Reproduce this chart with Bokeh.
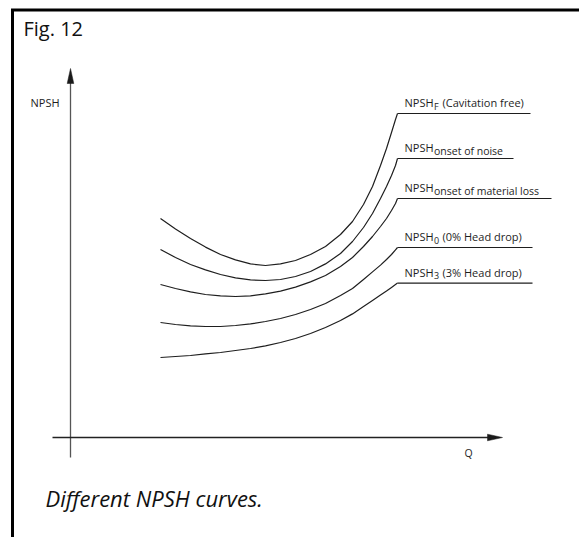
from bokeh.plotting import figure
from bokeh.models import Range1d, Label
from bokeh.core.properties import value
from bokeh.embed import file_html
from bokeh.resources import INLINE

# ---------------- data (arbitrary units)
q = [18.0, 21.0, 24.0, 27.0, 30.0, 33.0, 36.0, 39.0, 42.0, 45.0, 48.0, 51.0, 54.0,
     56.4, 58.6, 60.4, 62.0, 63.2, 64.2, 65.0, 65.4]

npsh_f     = [54.75, 52.1, 49.75, 47.6, 45.75, 44.4, 43.4, 43.0, 43.4, 44.25, 45.75, 47.75, 50.75,
              54.0, 58.25, 62.75, 68.0, 72.25, 76.25, 79.5, 81.0]
npsh_noise = [47.0, 45.0, 43.25, 41.9, 40.75, 39.9, 39.4, 39.25, 39.5, 40.25, 41.5, 43.4, 46.0,
              49.0, 52.5, 56.0, 59.75, 62.75, 65.5, 68.0, 69.75]
npsh_mat   = [38.25, 37.25, 36.4, 35.75, 35.4, 35.25, 35.4, 35.9, 36.6, 37.6, 38.9, 40.5, 42.75,
              45.0, 47.75, 50.25, 52.75, 54.75, 56.75, 58.5, 59.75]
npsh_0     = [28.75, 28.25, 27.9, 27.75, 27.75, 28.0, 28.4, 29.0, 29.75, 30.75, 32.0, 33.5, 35.5,
              37.25, 39.5, 41.4, 43.1, 44.5, 45.75, 46.9, 47.5]
npsh_3     = [20.0, 20.25, 20.5, 20.9, 21.25, 21.75, 22.25, 22.9, 23.75, 24.75, 26.0, 27.5, 29.25,
              30.9, 32.75, 34.25, 35.6, 36.6, 37.5, 38.25, 38.6]

curves = [npsh_f, npsh_noise, npsh_mat, npsh_0, npsh_3]
label_sub = ["F", "onset of noise", "onset of material loss", "0", "3"]
label_rest = ["(Cavitation free)", "", "", "(0% Head drop)", "(3% Head drop)"]
leader_end_q = [92.0, 88.6, 96.2, 92.4, 92.4]
label_q = 66.8

x_axis_label = "Q"
y_axis_label = "NPSH"
fig_title = "Fig. 12"
caption = "Different NPSH curves."

# ---------------- layout
W, H = 579, 537
PX_Q, PX_N = 5.0, 4.0          # pixels per unit
OX, OY = 70.0, 437.0           # origin position in px (from left / from top)
X_TIP, Y_TIP = 86.4, 92.25     # arrow tips
FONT = "Open Sans"
INK = "#1e1e1e"

p = figure(width=W, height=H, output_backend="svg", toolbar_location=None,
           x_range=Range1d(-OX / PX_Q, (W - OX) / PX_Q),
           y_range=Range1d(-(H - OY) / PX_N, OY / PX_N),
           min_border=0, min_border_left=0, min_border_right=0,
           min_border_top=0, min_border_bottom=0)
p.axis.visible = False
p.grid.visible = False
p.outline_line_color = None
p.background_fill_color = "white"
p.border_fill_color = "white"

xr0, xr1 = p.x_range.start, p.x_range.end
yr0, yr1 = p.y_range.start, p.y_range.end

# frame (top and left borders)
top_n = yr1 - 9.5 / PX_N
left_q = xr0 + 12.0 / PX_Q
p.line([left_q - 1.5 / PX_Q, xr1], [top_n, top_n], line_color="black", line_width=3)
p.line([left_q, left_q], [yr0, top_n], line_color="black", line_width=3)

# y axis with arrow
p.line([0, 0], [-20.0 / PX_N, Y_TIP - 10 / PX_N], line_color="#555555", line_width=1.3)
p.patch([0, -3.3 / PX_Q, 3.3 / PX_Q], [Y_TIP, Y_TIP - 15 / PX_N, Y_TIP - 15 / PX_N],
        fill_color="#1a1a1a", line_color="#1a1a1a", line_width=0.5)
# x axis with arrow
p.line([-18.0 / PX_Q, X_TIP - 10 / PX_Q], [0, 0], line_color="#222222", line_width=1.4)
p.patch([X_TIP, X_TIP - 15 / PX_Q, X_TIP - 15 / PX_Q], [0, 3.3 / PX_N, -3.3 / PX_N],
        fill_color="#1a1a1a", line_color="#1a1a1a", line_width=0.5)

# curves and leader lines with labels
for ys, sub, rest, qend in zip(curves, label_sub, label_rest, leader_end_q):
    p.line(q, ys, line_color=INK, line_width=1.2, line_join="round")
    p.line([q[-1], qend], [ys[-1], ys[-1]], line_color=INK, line_width=1.2)
    p.text(x=[label_q], y=[ys[-1]], text=["NPSH"], text_font=value(FONT),
           text_font_size="11px", text_color=INK, text_baseline="alphabetic",
           text_align="left", y_offset=-11)
    short = len(sub) == 1
    p.text(x=[label_q], y=[ys[-1]], text=[sub], text_font=value(FONT),
           text_font_size="9px" if short else "10.5px", text_color=INK,
           text_baseline="alphabetic", text_align="left", x_offset=29.5,
           y_offset=-7.5)
    if rest:
        p.text(x=[label_q], y=[ys[-1]], text=[rest], text_font=value(FONT),
               text_font_size="11px", text_color=INK, text_baseline="alphabetic",
               text_align="left", x_offset=38, y_offset=-11)

# axis labels
p.text(x=[(30 - OX) / PX_Q], y=[(OY - 102) / PX_N], text=[y_axis_label], text_font=value(FONT),
       text_font_size="11px", text_color=INK, text_baseline="middle", text_align="left")
p.text(x=[(468 - OX) / PX_Q], y=[(OY - 452) / PX_N], text=[x_axis_label], text_font=value(FONT),
       text_font_size="10.5px", text_color=INK, text_baseline="middle", text_align="center")

# figure number and caption
p.add_layout(Label(x=23, y=H - 28, x_units="screen", y_units="screen", text=fig_title,
                   text_font=FONT, text_font_size="20px", text_color="#111111",
                   text_baseline="middle", text_align="left"))
p.add_layout(Label(x=45, y=H - 497, x_units="screen", y_units="screen", text=caption,
                   text_font=FONT, text_font_style="italic", text_font_size="22px",
                   text_color="#111111", text_baseline="middle", text_align="left"))

open("out.html", "w").write(file_html(p, INLINE))
